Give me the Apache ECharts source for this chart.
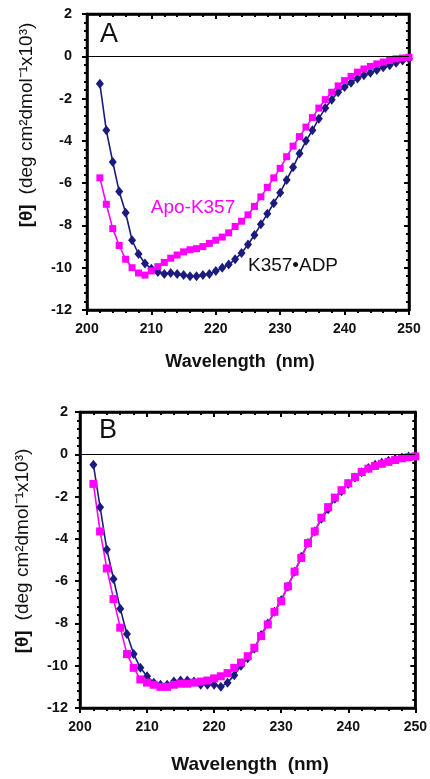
<!DOCTYPE html>
<html>
<head>
<meta charset="utf-8">
<script src="https://cdn.jsdelivr.net/npm/echarts@6/dist/echarts.min.js"></script>
<style>
  html, body { margin: 0; padding: 0; background: #fff; }
  #chart { width: 430px; height: 779px; }
</style>
</head>
<body>
<div id="chart"></div>
<script>
// wavelength (nm), one reading per nm
const wavelength = [202, 203, 204, 205, 206, 207, 208, 209, 210, 211, 212, 213, 214, 215, 216, 217,
  218, 219, 220, 221, 222, 223, 224, 225, 226, 227, 228, 229, 230, 231, 232, 233, 234, 235, 236,
  237, 238, 239, 240, 241, 242, 243, 244, 245, 246, 247, 248, 249, 250]

// panel A
const adpA = [-1.3, -3.5, -5.0, -6.4, -7.4, -8.7, -9.35, -9.8, -10.05, -10.2, -10.3, -10.25, -10.3,
  -10.35, -10.4, -10.4, -10.35, -10.3, -10.15, -10.0, -9.85, -9.6, -9.3, -8.9, -8.45, -7.95, -7.45,
  -6.95, -6.45, -5.85, -5.25, -4.6, -4.0, -3.5, -2.95, -2.45, -2.05, -1.7, -1.45, -1.25, -1.05,
  -0.9, -0.78, -0.65, -0.52, -0.42, -0.3, -0.2, -0.12]
const apoA = [-5.75, -7.0, -8.15, -8.95, -9.6, -10.0, -10.25, -10.35, -10.15, -9.95, -9.75, -9.55,
  -9.4, -9.25, -9.15, -9.1, -9.0, -8.85, -8.7, -8.55, -8.35, -8.05, -7.8, -7.5, -7.1, -6.65, -6.2,
  -5.75, -5.3, -4.75, -4.25, -3.8, -3.35, -2.9, -2.45, -2.05, -1.7, -1.4, -1.15, -0.95, -0.75,
  -0.6, -0.48, -0.36, -0.27, -0.2, -0.12, -0.08, -0.05]

// panel B
const adpB = [-0.5, -2.5, -4.5, -5.9, -7.3, -8.5, -9.45, -10.1, -10.5, -10.8, -10.9, -10.9, -10.75,
  -10.7, -10.7, -10.75, -10.9, -10.9, -10.9, -11.0, -10.8, -10.45, -10.0, -9.65, -9.2, -8.55, -8.0,
  -7.45, -6.9, -6.25, -5.55, -4.85, -4.2, -3.65, -3.05, -2.6, -2.1, -1.75, -1.4, -1.1, -0.85,
  -0.65, -0.5, -0.4, -0.3, -0.22, -0.15, -0.1, -0.07]
const apoB = [-1.4, -3.65, -5.4, -6.85, -8.2, -9.45, -10.1, -10.65, -10.8, -10.9, -11.0, -11.0,
  -10.9, -10.85, -10.85, -10.8, -10.75, -10.7, -10.6, -10.5, -10.35, -10.1, -9.85, -9.55, -9.15,
  -8.6, -8.05, -7.45, -6.95, -6.25, -5.55, -4.9, -4.2, -3.65, -3.0, -2.5, -2.05, -1.7, -1.37,
  -1.08, -0.84, -0.68, -0.55, -0.45, -0.36, -0.27, -0.19, -0.14, -0.1]

const FONT = '"Liberation Sans", Arial, sans-serif'
const NAVY = '#1b1b7d'
const MAGENTA = '#ff00ff'

const pairs = (ys) => wavelength.map((w, i) => [w, ys[i]])

const chart = echarts.init(document.getElementById('chart'))

// main axis (labels + outer ticks) and a twin with inner ticks, so ticks cross the line
const makeX = (grid, inside) => ({
  type: 'value', gridIndex: grid, min: 200, max: 250, interval: 10,
  axisLine: { show: true, onZero: false, lineStyle: { color: '#000', width: 2.5 } },
  axisTick: { show: true, inside: inside, length: 5, lineStyle: { color: '#000', width: 2 } },
  minorTick: { show: true, splitNumber: 5, length: 3, lineStyle: { color: '#000', width: 2 } },
  axisLabel: { show: !inside, color: '#111', fontFamily: FONT, fontSize: 14, fontWeight: 'bold', margin: 12 },
  splitLine: { show: false }
})
const makeY = (grid, inside, margin) => ({
  type: 'value', gridIndex: grid, min: -12, max: 2, interval: 2,
  axisLine: { show: true, onZero: false, lineStyle: { color: '#000', width: 2.5 } },
  axisTick: { show: true, inside: inside, length: 5, lineStyle: { color: '#000', width: 2 } },
  minorTick: { show: true, splitNumber: 5, length: 3, lineStyle: { color: '#000', width: 2 } },
  axisLabel: { show: !inside, color: '#111', fontFamily: FONT, fontSize: 14.5, fontWeight: 'bold', margin: margin },
  splitLine: { show: false }
})

const zeroLine = {
  silent: true, symbol: 'none', label: { show: false },
  lineStyle: { color: '#000', width: 1, type: 'solid' },
  data: [{ yAxis: 0 }]
}

const lineSeries = (name, data, xi, yi, color, symbol, size, extra) => Object.assign({
  name: name, type: 'line', xAxisIndex: xi, yAxisIndex: yi, data: pairs(data),
  symbol: symbol, symbolSize: size, showSymbol: true,
  lineStyle: { color: color, width: 1.6 }, itemStyle: { color: color }
}, extra || {})

const yName = (x, y, size) => ({
  type: 'text', x: x, y: y, rotation: Math.PI / 2,
  style: {
    text: '{b|[θ]}   {n|(deg cm²dmol⁻¹x10³)}',
    align: 'center', verticalAlign: 'middle',
    rich: {
      b: { fontFamily: FONT, fontSize: size, fontWeight: 'bold', fill: '#111' },
      n: { fontFamily: FONT, fontSize: size, fill: '#111' }
    }
  }
})
const plainText = (x, y, text, size, color, weight) => ({
  type: 'text', x: x, y: y,
  style: { text: text, fontFamily: FONT, fontSize: size, fontWeight: weight || 'normal', fill: color, align: 'center', verticalAlign: 'middle' }
})

chart.setOption({
  backgroundColor: '#fff',
  animation: false,
  grid: [
    { left: 87, top: 14, width: 322, height: 296, show: true, borderColor: '#000', borderWidth: 2.5, backgroundColor: 'transparent' },
    { left: 80, top: 412, width: 338, height: 296, show: true, borderColor: '#000', borderWidth: 2.5, backgroundColor: 'transparent' }
  ],
  xAxis: [makeX(0, false), makeX(0, true), makeX(1, false), makeX(1, true)],
  yAxis: [makeY(0, false, 15), makeY(0, true, 15), makeY(1, false, 12), makeY(1, true, 12)],
  series: [
    lineSeries('K357•ADP', adpA, 0, 0, NAVY, 'diamond', [8, 10], { markLine: zeroLine }),
    lineSeries('Apo-K357', apoA, 0, 0, MAGENTA, 'rect', 7),
    lineSeries('K357•ADP', adpB, 2, 2, NAVY, 'diamond', [8, 10], { markLine: zeroLine }),
    lineSeries('Apo-K357', apoB, 2, 2, MAGENTA, 'rect', 8)
  ],
  graphic: [
    plainText(109, 35, 'A', 27, '#111'),
    plainText(108, 431, 'B', 27, '#111'),
    plainText(193, 208, 'Apo-K357', 19, MAGENTA),
    plainText(293, 266, 'K357•ADP', 19, '#111'),
    plainText(240, 362, 'Wavelength  (nm)', 18, '#111', 'bold'),
    plainText(250, 765, 'Wavelength  (nm)', 19, '#111', 'bold'),
    yName(27, 125, 19),
    yName(23, 551, 19)
  ]
})
</script>
</body>
</html>
